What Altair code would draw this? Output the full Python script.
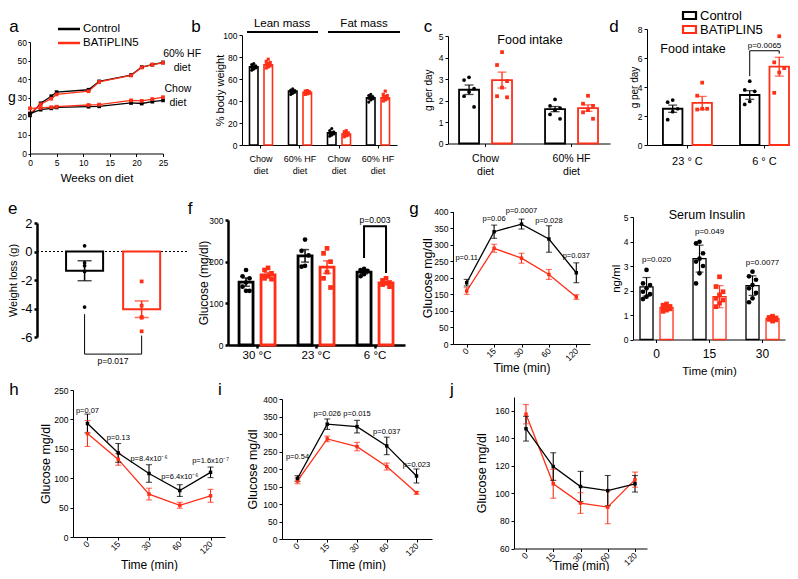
import altair as alt
import pandas as pd

FONT = "Liberation Sans"
RED = "#FF2E17"
BLACK = "#000000"
SERIES = ["Control", "BATiPLIN5"]
TIMES = ["0", "15", "30", "60", "120"]
W, H = 782, 563

# ---------------- data ----------------
# a: body weight
WEEKS = [0, 2, 4, 5, 11, 13, 19, 21, 23, 25]
HF_CTRL = [20.5, 27.0, 30.8, 33.0, 34.3, 38.8, 42.2, 46.5, 47.8, 49.0]
HF_KO = [21.5, 26.5, 29.5, 31.8, 33.5, 38.5, 42.0, 46.3, 47.8, 48.8]
CHOW_CTRL = [21.5, 23.6, 24.3, 24.8, 25.2, 25.4, 27.2, 26.9, 27.9, 28.6]
CHOW_KO = [24.3, 24.5, 24.9, 25.2, 26.1, 26.3, 28.6, 28.3, 29.3, 30.3]
A_LABELS = ["60% HF", "diet", "Chow", "diet"]
A_LABEL_X = [28.6, 28.6, 27.8, 27.8]
A_LABEL_Y = [53.5, 46.0, 34.7, 27.2]

# b: body composition
B_CATS = ["Chow|diet", "60% HF|diet", "Chow|diet ", "60% HF|diet "]
B_CTRL = [71, 49, 11, 43]
B_KO = [73, 48, 10, 43]
B_SEM_C = [1.0, 0.8, 1.0, 1.0]
B_SEM_K = [1.0, 0.6, 0.8, 1.2]
B_PTS_C = [[74, 73, 72, 71, 70.5, 70, 69, 68], [51, 50, 49.5, 49, 48.5, 48, 47, 46],
           [15, 13, 12, 11, 10.5, 10, 9, 8], [46, 45, 44, 43, 42.5, 42, 41, 39]]
B_PTS_K = [[78, 76, 75, 74, 73, 72, 71, 70], [49.5, 49, 48.5, 48, 47.5, 47, 46.5, 46],
           [13, 12, 11, 10.5, 10, 9, 8.5, 7.5], [49, 46, 45, 44, 43, 42, 41, 40]]

# c: food intake by diet
C_CATS = ["Chow|diet", "60% HF|diet"]
C_CTRL = [2.5, 1.6]
C_KO = [2.95, 1.65]
C_SEM_C = [0.22, 0.12]
C_SEM_K = [0.37, 0.15]
C_PTS_C = [[3.08, 2.95, 2.55, 2.4, 2.2, 1.7], [2.05, 1.75, 1.65, 1.55, 1.35, 1.15]]
C_PTS_K = [[4.25, 3.65, 2.9, 2.6, 2.2, 2.15], [2.22, 1.85, 1.75, 1.55, 1.45, 1.15]]

# d: food intake by temperature
D_CATS = ["23 ° C", "6 ° C"]
D_CTRL = [2.5, 3.45]
D_KO = [2.9, 5.4]
D_SEM_C = [0.25, 0.3]
D_SEM_K = [0.45, 0.65]
D_PTS_C = [[3.1, 2.95, 2.5, 2.3, 1.75], [4.4, 3.8, 3.7, 3.0, 2.8]]
D_PTS_K = [[4.3, 3.4, 2.5, 2.5, 2.45], [7.5, 5.7, 5.3, 5.0, 3.6]]

# e: weight loss
E_MEAN = [-1.35, -4.05]
E_SEM = [0.7, 0.58]
E_PTS = [[0.4, -0.8, -1.0, -1.4, -3.9], [-2.1, -3.8, -4.6, -4.65, -5.6]]

# f: glucose by temperature
F_CATS = ["30 °C", "23 °C", "6 °C"]
F_CTRL = [151, 214, 175]
F_KO = [168, 187, 149]
F_SEM_C = [10, 15, 4]
F_SEM_K = [6, 15, 3]
F_PTS_C = [[180, 165, 160, 150, 140, 130, 130], [253, 226, 215, 190, 188], [183, 180, 178, 170, 165]]
F_PTS_K = [[185, 180, 172, 165, 160, 158], [232, 220, 200, 175, 160, 138], [160, 155, 150, 148, 145, 140]]

# g: glucose tolerance
G_CTRL = [185, 339, 362, 317, 215]
G_KO = [160, 289, 259, 210, 142]
G_ERR_C = [10, 20, 15, 40, 30]
G_ERR_K = [10, 12, 15, 15, 7]
G_P = ["p=0.11", "p=0.06", "p=0.0007", "p=0.028", "p=0.037"]
G_PY = [259, 376, 402, 370, 265]

# serum insulin
S_CATS = ["0", "15", "30"]
S_CTRL = [2.15, 3.3, 2.2]
S_KO = [1.3, 1.75, 0.85]
S_SD_C = [0.38, 0.55, 0.4]
S_SD_K = [0.1, 0.45, 0.08]
S_PTS_C = [[2.84, 2.29, 2.22, 2.09, 1.95, 1.85, 1.75, 1.65],
           [3.99, 3.92, 3.52, 3.3, 3.18, 3.0, 2.7, 2.29],
           [2.77, 2.58, 2.44, 2.22, 2.09, 1.9, 1.68, 1.52]]
S_PTS_K = [[1.45, 1.4, 1.35, 1.3, 1.28, 1.25, 1.2, 1.15],
           [2.56, 2.16, 1.95, 1.82, 1.68, 1.61, 1.48, 1.34],
           [0.95, 0.9, 0.88, 0.85, 0.82, 0.8, 0.75]]
S_P = ["p=0.020", "p=0.049", "p=0.0077"]
S_PY = [3.25, 4.39, 3.12]

# h: insulin tolerance
H_CTRL = [193, 143, 108, 79, 110]
H_KO = [176, 132, 73, 54, 70]
H_ERR_C = [16, 16, 15, 10, 9]
H_ERR_K = [22, 10, 10, 5, 11]
H_P = ["p=0.07", "p=0.13", "p=8.4x10⁻⁶", "p=6.4x10⁻⁶", "p=1.6x10⁻⁷"]
H_PY = [215, 168, 132, 102, 129]

# i: glucose tolerance
I_CTRL = [173, 328, 321, 266, 180]
I_KO = [166, 286, 264, 207, 132]
I_ERR_C = [8, 15, 18, 25, 20]
I_ERR_K = [8, 8, 12, 10, 4]
I_P = ["p=0.54", "p=0.026", "p=0.015", "p=0.037", "p=0.023"]
I_PY = [233, 357, 357, 306, 211]

# j: insulin tolerance
J_CTRL = [147, 119.5, 105, 102, 107]
J_KO = [157.5, 107, 93, 90, 110]
J_ERR_C = [9, 10, 11, 11, 6]
J_ERR_K = [7, 10.5, 7.5, 12, 5.5]

JITTER = [0, -1, 1]


# ---------------- helpers ----------------
def X(p):
    return p - 8


def Y(p):
    return p - 8


CS = alt.Scale(domain=SERIES, range=[BLACK, RED])
SH = alt.Scale(domain=SERIES, range=["circle", "square"])


def yaxis(xp, ticks, lsize=8.5, title=None, tx=None, tsize=12, w=1, tick=3, pad=2, angle=270,
          expr=None):
    kw = dict(orient="left", offset=-(xp - 8), values=ticks, grid=False,
              labelFont=FONT, labelFontSize=lsize, labelColor=BLACK, labelPadding=pad,
              labelFlush=False, labelOverlap=False, domainColor=BLACK, domainWidth=w,
              tickColor=BLACK, tickWidth=w, tickSize=tick)
    if expr:
        kw.update(labelExpr=expr)
    if title:
        kw.update(title=title, titleFont=FONT, titleFontSize=tsize, titleFontWeight="normal",
                  titleColor=BLACK, titleX=tx - xp, titleAngle=angle,
                  titleBaseline="middle", titleAlign="center")
    else:
        kw.update(title=None)
    return alt.Axis(**kw)


def xaxis(yp, lsize=8.5, title=None, ty=None, tsize=12, w=1, tick=3, pad=2, angle=0,
          expr=None, lh=None, values=None):
    kw = dict(orient="bottom", offset=(yp - 8) - H, grid=False,
              labelFont=FONT, labelFontSize=lsize, labelColor=BLACK, labelPadding=pad,
              labelFlush=False, labelOverlap=False, domainColor=BLACK, domainWidth=w,
              tickColor=BLACK, tickWidth=w, tickSize=tick)
    if angle:
        kw.update(labelAngle=angle, labelAlign="right", labelBaseline="middle")
    else:
        kw.update(labelAngle=0, labelAlign="center", labelBaseline="top")
    if expr:
        kw.update(labelExpr=expr)
    if lh:
        kw.update(labelLineHeight=lh)
    if values is not None:
        kw.update(values=values)
    if title:
        kw.update(title=title, titleFont=FONT, titleFontSize=tsize, titleFontWeight="normal",
                  titleColor=BLACK, titleY=ty - yp, titleBaseline="middle")
    else:
        kw.update(title=None)
    return alt.Axis(**kw)


def bar_panel(cats, mc, mk, ec, ek, pc, pk, xr, pi, po, al, opi, yd, yr, xa, ya,
              bw=2.0, ps=16, cap=7, ew=1.2, jit=3.0):
    brow, prow = [], []
    for i, c in enumerate(cats):
        for s, m, e, pts in ((SERIES[0], mc[i], ec[i], pc[i]), (SERIES[1], mk[i], ek[i], pk[i])):
            brow.append({"cat": c, "s": s, "v": m, "lo": m - e, "hi": m + e})
            for k, v in enumerate(pts):
                prow.append({"cat": c, "s": s, "v": v, "j": k % 3})
    bdf = pd.DataFrame(brow)
    pdf = pd.DataFrame(prow)
    xs = alt.Scale(type="band", domain=cats, range=[X(xr[0]), X(xr[1])],
                   paddingInner=pi, paddingOuter=po, align=al)
    ys = alt.Scale(type="linear", domain=yd, range=[Y(yr[0]), Y(yr[1])], nice=False, zero=False)
    xo = alt.XOffset("s:N", sort=SERIES,
                     scale=alt.Scale(type="band", domain=SERIES, paddingInner=opi, paddingOuter=0))

    def xe():
        return alt.X("cat:N", sort=cats, scale=xs, axis=xa)

    def ye(f):
        return alt.Y(f + ":Q", scale=ys, axis=ya)

    col = alt.Color("s:N", scale=CS, legend=None)
    layers = [
        alt.Chart(bdf).mark_bar(fill="white", strokeWidth=bw).encode(
            x=xe(), xOffset=xo, y=ye("v"), y2=alt.datum(0),
            stroke=alt.Stroke("s:N", scale=CS, legend=None)),
        alt.Chart(bdf).mark_rule(strokeWidth=ew).encode(
            x=xe(), xOffset=xo, y=ye("lo"), y2=alt.Y2("hi:Q"), color=col),
        alt.Chart(bdf).mark_tick(thickness=ew, size=cap).encode(
            x=xe(), xOffset=xo, y=ye("lo"), color=col),
        alt.Chart(bdf).mark_tick(thickness=ew, size=cap).encode(
            x=xe(), xOffset=xo, y=ye("hi"), color=col),
    ]
    # scatter of individual animals, spread a little across each bar
    n = len(cats)
    step = (xr[1] - xr[0]) / (n - pi + 2 * po)
    step_o = step * (1 - pi) / (2 - opi)
    for si, s in enumerate(SERIES):
        base = -step_o / 2 if si == 0 else step_o / 2
        for j, m in enumerate(JITTER):
            sub = pdf[(pdf["s"] == s) & (pdf["j"] == j)]
            if len(sub) == 0:
                continue
            layers.append(alt.Chart(sub).mark_point(
                filled=True, size=ps, opacity=1, xOffset=base + m * jit).encode(
                x=xe(), y=ye("v"), color=col, shape=alt.Shape("s:N", scale=SH, legend=None)))
    return layers, xe, xo, ye


def line_panel(vc, vk, ec, ek, xr, pad, yd, yr, xa, ya, plabs=None, py=None):
    rows = []
    for s, vals, errs in ((SERIES[1], vk, ek), (SERIES[0], vc, ec)):
        for i, t in enumerate(TIMES):
            rows.append({"t": t, "o": i, "s": s, "v": vals[i],
                         "lo": vals[i] - errs[i], "hi": vals[i] + errs[i]})
    df = pd.DataFrame(rows)
    xs = alt.Scale(type="point", domain=TIMES, range=[X(xr[0]), X(xr[1])], padding=pad)
    ys = alt.Scale(type="linear", domain=yd, range=[Y(yr[0]), Y(yr[1])], nice=False, zero=False)

    def xe():
        return alt.X("t:O", sort=TIMES, scale=xs, axis=xa)

    def ye(f):
        return alt.Y(f + ":Q", scale=ys, axis=ya)

    col = alt.Color("s:N", scale=CS, legend=None)
    layers = [
        alt.Chart(df).mark_line(strokeWidth=1.3).encode(x=xe(), y=ye("v"), color=col, order="o:Q"),
        alt.Chart(df).mark_rule(strokeWidth=1.1).encode(x=xe(), y=ye("lo"), y2=alt.Y2("hi:Q"), color=col),
        alt.Chart(df).mark_tick(thickness=1.1, size=6).encode(x=xe(), y=ye("lo"), color=col),
        alt.Chart(df).mark_tick(thickness=1.1, size=6).encode(x=xe(), y=ye("hi"), color=col),
        alt.Chart(df).mark_point(shape="square", filled=True, size=12, opacity=1).encode(
            x=xe(), y=ye("v"), color=col),
    ]
    if plabs:
        tdf = pd.DataFrame({"t": TIMES, "v": py, "lab": plabs})
        layers.append(alt.Chart(tdf).mark_text(font=FONT, fontSize=7.5, color=BLACK).encode(
            x=xe(), y=ye("v"), text="lab:N"))
    return alt.layer(*layers)


def txt(t, x, y, size=12, align="center", baseline="middle", color=BLACK):
    return alt.Chart(pd.DataFrame({"t": [t]})).mark_text(
        font=FONT, fontSize=size, align=align, baseline=baseline, color=color).encode(
        x=alt.value(X(x)), y=alt.value(Y(y)), text="t:N")


def hline(x1, x2, y, color=BLACK, w=2.0):
    return alt.Chart(pd.DataFrame({"k": [0]})).mark_rule(color=color, strokeWidth=w).encode(
        x=alt.value(X(x1)), x2=alt.value(X(x2)), y=alt.value(Y(y)))


def box(x1, x2, y1, y2, color):
    return alt.Chart(pd.DataFrame({"k": [0]})).mark_rect(
        fill="white", stroke=color, strokeWidth=2.2).encode(
        x=alt.value(X(x1)), x2=alt.value(X(x2)), y=alt.value(Y(y1)), y2=alt.value(Y(y2)))


panels = []

# ---------------- a ----------------
arows = []
for diet, s, vals in (("HF", SERIES[0], HF_CTRL), ("HF", SERIES[1], HF_KO),
                      ("Chow", SERIES[0], CHOW_CTRL), ("Chow", SERIES[1], CHOW_KO)):
    for w_, v in zip(WEEKS, vals):
        arows.append({"w": w_, "v": v, "s": s, "g": diet + s})
adf = pd.DataFrame(arows)
a_xs = alt.Scale(domain=[0, 25], range=[X(30), X(163)], nice=False, zero=False)
a_ys = alt.Scale(domain=[0, 60], range=[Y(153.5), Y(42)], nice=False, zero=False)
a_xa = xaxis(153.5, values=[0, 5, 10, 15, 20, 25], title="Weeks on diet", ty=178, tsize=11.5)
a_ya = yaxis(30, [0, 10, 20, 30, 40, 50, 60], title="g", tx=11.5, tsize=14, angle=0, tick=2, pad=1.5)
a_x = alt.X("w:Q", scale=a_xs, axis=a_xa)
a_y = alt.Y("v:Q", scale=a_ys, axis=a_ya)
a_col = alt.Color("s:N", scale=CS, legend=None)
alab = pd.DataFrame({"w": A_LABEL_X, "v": A_LABEL_Y, "t": A_LABELS})
panels.append(alt.layer(
    alt.Chart(adf).mark_line(strokeWidth=1.3).encode(x=a_x, y=a_y, color=a_col, detail="g:N"),
    alt.Chart(adf).mark_point(shape="square", filled=True, size=14, opacity=1).encode(
        x=a_x, y=a_y, color=a_col),
    alt.Chart(alab).mark_text(font=FONT, fontSize=10.5, color=BLACK).encode(x=a_x, y=a_y, text="t:N"),
))

# ---------------- b ----------------
b_layers, _, _, _ = bar_panel(
    B_CATS, B_CTRL, B_KO, B_SEM_C, B_SEM_K, B_PTS_C, B_PTS_K,
    (242, 397), 0.41, 0.192, 0.5, 0.414, [0, 100], (145, 35),
    xaxis(145, lsize=9, expr="split(datum.label, '|')", lh=12, pad=6),
    yaxis(242, [0, 20, 40, 60, 80, 100], title="% body weight", tx=220, tsize=11),
    bw=1.6, ps=10, cap=5, ew=1.0, jit=2.0)
panels.append(alt.layer(*b_layers))

# ---------------- c ----------------
c_layers, _, _, _ = bar_panel(
    C_CATS, C_CTRL, C_KO, C_SEM_C, C_SEM_K, C_PTS_C, C_PTS_K,
    (448, 610), 0.384, 0.134, 0.48, 0.394, [0, 5], (143.5, 36),
    xaxis(143.5, lsize=10.5, expr="split(datum.label, '|')", lh=13, pad=7),
    yaxis(448, [0, 1, 2, 3, 4, 5], title="g per day", tx=428, tsize=10),
    bw=1.8, ps=14, cap=9, ew=1.3, jit=5.0)
panels.append(alt.layer(*c_layers))

# ---------------- d ----------------
d_layers, d_xe, d_xo, d_ye = bar_panel(
    D_CATS, D_CTRL, D_KO, D_SEM_C, D_SEM_K, D_PTS_C, D_PTS_K,
    (647, 790), 0.364, 0.11, 0.94, 0.339, [0, 8], (145, 29),
    xaxis(145, lsize=11, pad=7),
    yaxis(647, [0, 2, 4, 6, 8], title="g per day", tx=634, tsize=10),
    bw=1.8, ps=14, cap=9, ew=1.3, jit=5.0)
d_br = pd.DataFrame({"cat": [D_CATS[1]] * 4, "s": [SERIES[0], SERIES[0], SERIES[1], SERIES[1]],
                     "v": [4.75, 6.5, 6.5, 6.3], "o": [0, 1, 2, 3]})
d_pt = pd.DataFrame({"cat": [D_CATS[1]], "v": [6.8], "t": ["p=0.0065"]})
d_layers += [
    alt.Chart(d_br).mark_line(color=BLACK, strokeWidth=1).encode(
        x=d_xe(), xOffset=d_xo, y=d_ye("v"), order="o:Q"),
    alt.Chart(d_pt).mark_text(font=FONT, fontSize=8, color=BLACK).encode(
        x=d_xe(), y=d_ye("v"), text="t:N"),
]
panels.append(alt.layer(*d_layers))

# ---------------- e ----------------
e_bars = pd.DataFrame({"s": SERIES, "v": E_MEAN,
                       "lo": [m - e for m, e in zip(E_MEAN, E_SEM)],
                       "hi": [m + e for m, e in zip(E_MEAN, E_SEM)]})
e_pts = pd.DataFrame([{"s": s, "v": v} for s, vals in zip(SERIES, E_PTS) for v in vals])
e_xs = alt.Scale(type="band", domain=SERIES, range=[X(37), X(187)],
                 paddingInner=0.351, paddingOuter=0.49, align=0.52)
e_ys = alt.Scale(domain=[-6, 2], range=[Y(337), Y(223)], nice=False, zero=False)
e_ya = yaxis(37, [-6, -4, -2, 0, 2], lsize=13, title="Weight loss (g)", tx=13, tsize=11,
             w=2.5, tick=3, pad=2, expr="'' + datum.value")
e_x = alt.X("s:N", sort=SERIES, scale=e_xs, axis=None)


def e_y(f):
    return alt.Y(f + ":Q", scale=e_ys, axis=e_ya)


e_col = alt.Color("s:N", scale=CS, legend=None)
e_br = pd.DataFrame({"s": [SERIES[0], SERIES[0], SERIES[1], SERIES[1]],
                     "v": [-4.4, -7.2, -7.2, -5.9], "o": [0, 1, 2, 3]})
e_pt = pd.DataFrame({"v": [-7.65], "t": ["p=0.017"]})
panels.append(alt.layer(
    alt.Chart(pd.DataFrame({"k": [0]})).mark_rule(color=BLACK, strokeWidth=1, strokeDash=[2, 2]).encode(
        x=alt.value(X(37)), x2=alt.value(X(187)), y=alt.Y(datum=0, scale=e_ys, axis=e_ya)),
    alt.Chart(e_bars).mark_bar(fill="white", strokeWidth=2).encode(
        x=e_x, y=e_y("v"), y2=alt.datum(0), stroke=alt.Stroke("s:N", scale=CS, legend=None)),
    alt.Chart(e_bars).mark_rule(strokeWidth=1.5).encode(x=e_x, y=e_y("lo"), y2=alt.Y2("hi:Q"), color=e_col),
    alt.Chart(e_bars).mark_tick(thickness=1.5, size=14).encode(x=e_x, y=e_y("lo"), color=e_col),
    alt.Chart(e_bars).mark_tick(thickness=1.5, size=14).encode(x=e_x, y=e_y("hi"), color=e_col),
    alt.Chart(e_pts).mark_point(filled=True, size=14, opacity=1).encode(
        x=e_x, y=e_y("v"), color=e_col, shape=alt.Shape("s:N", scale=SH, legend=None)),
    alt.Chart(e_br).mark_line(color=BLACK, strokeWidth=1).encode(x=e_x, y=e_y("v"), order="o:Q"),
    alt.Chart(e_pt).mark_text(font=FONT, fontSize=8.5, color=BLACK).encode(
        x=alt.value(X(113)), y=e_y("v"), text="t:N"),
))

# ---------------- f ----------------
f_layers, f_xe, f_xo, f_ye = bar_panel(
    F_CATS, F_CTRL, F_KO, F_SEM_C, F_SEM_K, F_PTS_C, F_PTS_K,
    (228, 405), 0.39, 0.195, 0.48, 0.364, [0, 300], (345, 220),
    xaxis(345, lsize=11.5, pad=1, w=2.5, tick=3),
    yaxis(228, [0, 100, 200, 300], title="Glucose (mg/dl)", tx=203, tsize=12, w=2.5),
    bw=2.8, ps=22, cap=8, ew=1.5, jit=3.5)
f_br = pd.DataFrame({"cat": [F_CATS[2]] * 4, "s": [SERIES[0], SERIES[0], SERIES[1], SERIES[1]],
                     "v": [209, 285, 285, 173], "o": [0, 1, 2, 3]})
f_pt = pd.DataFrame({"cat": [F_CATS[2]], "v": [301], "t": ["p=0.003"]})
f_layers += [
    alt.Chart(f_br).mark_line(color=BLACK, strokeWidth=2).encode(
        x=f_xe(), xOffset=f_xo, y=f_ye("v"), order="o:Q"),
    alt.Chart(f_pt).mark_text(font=FONT, fontSize=8.5, color=BLACK).encode(
        x=f_xe(), y=f_ye("v"), text="t:N"),
]
panels.append(alt.layer(*f_layers))

# ---------------- g ----------------
panels.append(line_panel(
    G_CTRL, G_KO, G_ERR_C, G_ERR_K, (453, 590), 0.5, [0, 400], (344, 211.5),
    xaxis(344, angle=315, title="Time (min)", ty=367, tsize=12),
    yaxis(453, list(range(0, 401, 50)), title="Glucose mg/dl", tx=427, tsize=12.5),
    G_P, G_PY))

# ---------------- serum insulin ----------------
s_layers, s_xe, s_xo, s_ye = bar_panel(
    S_CATS, S_CTRL, S_KO, S_SD_C, S_SD_K, S_PTS_C, S_PTS_K,
    (633, 785), 0.377, 0.1225, 0.54, 0.35, [0, 5], (339.5, 217),
    xaxis(339.5, lsize=12, pad=6, title="Time (min)", ty=371, tsize=11.5),
    yaxis(633, [0, 1, 2, 3, 4, 5], title="ng/ml", tx=616, tsize=11.5),
    bw=1.3, ps=22, cap=8, ew=1.2, jit=3.5)
s_pt = pd.DataFrame({"cat": S_CATS, "v": S_PY, "t": S_P})
s_layers.append(alt.Chart(s_pt).mark_text(font=FONT, fontSize=8, color=BLACK).encode(
    x=s_xe(), y=s_ye("v"), text="t:N"))
panels.append(alt.layer(*s_layers))

# ---------------- h ----------------
panels.append(line_panel(
    H_CTRL, H_KO, H_ERR_C, H_ERR_K, (73, 225), 0.47, [0, 250], (537, 390),
    xaxis(537, angle=315, title="Time (min)", ty=564, tsize=12),
    yaxis(73, list(range(0, 251, 50)), title="Glucose mg/dl", tx=45, tsize=12.5),
    H_P, H_PY))

# ---------------- i ----------------
panels.append(line_panel(
    I_CTRL, I_KO, I_ERR_C, I_ERR_K, (282, 432), 0.52, [0, 400], (539, 399),
    xaxis(539, angle=315, title="Time (min)", ty=564, tsize=12),
    yaxis(282, list(range(0, 401, 50)), title="Glucose mg/dl", tx=252, tsize=12.5),
    I_P, I_PY))

# ---------------- j ----------------
panels.append(line_panel(
    J_CTRL, J_KO, J_ERR_C, J_ERR_K, (514, 647), 0.44, [60, 170], (548.5, 397),
    xaxis(548.5, angle=315, title="Time (min)", ty=565, tsize=12),
    yaxis(514, [60, 80, 100, 120, 140, 160], title="Glucose mg/dl", tx=481, tsize=12.5)))

# ---------------- annotations ----------------
annots = [
    # panel letters
    txt("a", 14, 32, 17, baseline="alphabetic"),
    txt("b", 196, 32, 17, baseline="alphabetic"),
    txt("c", 428, 32, 17, baseline="alphabetic"),
    txt("d", 614, 32, 17, baseline="alphabetic"),
    txt("e", 8, 214, 17, align="left", baseline="alphabetic"),
    txt("f", 190, 214, 17, baseline="alphabetic"),
    txt("g", 414, 214, 17, baseline="alphabetic"),
    txt("h", 14, 395, 17, baseline="alphabetic"),
    txt("i", 220, 395, 17, baseline="alphabetic"),
    txt("j", 452, 395, 17, baseline="alphabetic"),
    # legend a
    hline(58, 80, 29, BLACK, 2.5),
    hline(58, 80, 43, RED, 2.5),
    txt(SERIES[0], 83, 29, 11.5, align="left"),
    txt(SERIES[1], 83, 43, 11.5, align="left"),
    # legend d
    box(683, 696, 12, 19, BLACK),
    box(683, 696, 26, 33, RED),
    txt(SERIES[0], 700, 16, 13, align="left"),
    txt(SERIES[1], 700, 30, 13, align="left"),
    # b headers
    hline(247, 318, 32, BLACK, 2),
    hline(328, 400, 32, BLACK, 2),
    txt("Lean mass", 282, 24, 11.5),
    txt("Fat mass", 364, 24, 11.5),
    # titles
    txt("Food intake", 530, 40, 12.5),
    txt("Food intake", 693, 49, 12.5),
    txt("Serum Insulin", 707, 215, 12.5),
]

chart = alt.layer(*panels, *annots).resolve_scale(
    x="independent", y="independent", xOffset="independent"
).properties(
    width=W, height=H, autosize=alt.AutoSizeParams(type="none"), padding=0
).configure(font=FONT).configure_view(stroke=None)

chart.save("out.html", embed_options={"renderer": "svg", "actions": False})
